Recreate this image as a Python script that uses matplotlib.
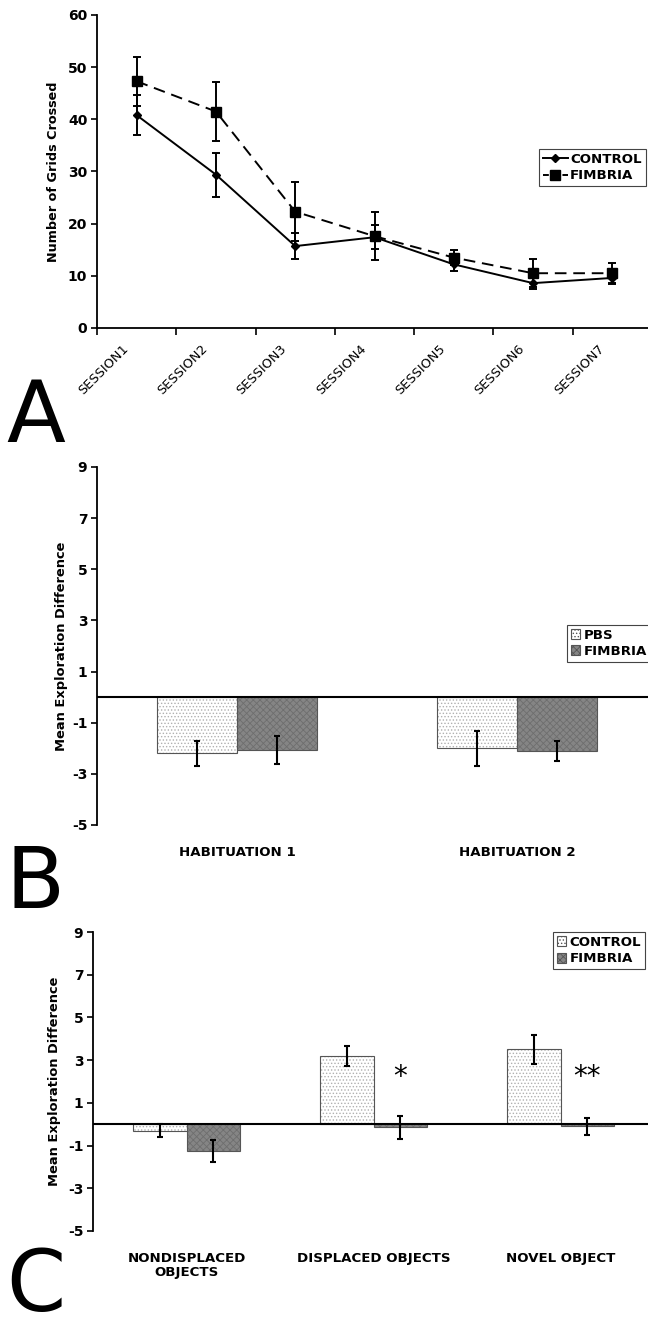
import matplotlib
matplotlib.use("Agg")
import matplotlib.pyplot as plt
import matplotlib.transforms as mtransforms
import numpy as np
from matplotlib.patches import Patch
from matplotlib.lines import Line2D

# ---------------- data ----------------
sessions = ["SESSION1", "SESSION2", "SESSION3", "SESSION4", "SESSION5", "SESSION6", "SESSION7"]
control_grids = [40.8, 29.4, 15.7, 17.4, 12.2, 8.6, 9.6]
control_grids_err = [3.8, 4.2, 2.5, 2.3, 1.3, 1.1, 1.0]
fimbria_grids = [47.3, 41.5, 22.3, 17.6, 13.5, 10.5, 10.5]
fimbria_grids_err = [4.7, 5.6, 5.7, 4.6, 1.4, 2.7, 2.0]

hab_cats = ["HABITUATION 1", "HABITUATION 2"]
pbs_hab = [-2.2, -2.0]
pbs_hab_err = [0.5, 0.68]
fimbria_hab = [-2.05, -2.1]
fimbria_hab_err = [0.55, 0.4]

obj_cats = ["NONDISPLACED\nOBJECTS", "DISPLACED OBJECTS", "NOVEL OBJECT"]
control_obj = [-0.3, 3.2, 3.5]
control_obj_err = [0.3, 0.47, 0.7]
fimbria_obj = [-1.25, -0.15, -0.1]
fimbria_obj_err = [0.5, 0.55, 0.4]
signif = ["", "*", "**"]

# ---------------- style ----------------
plt.rcParams['font.family'] = ['DejaVu Sans']
plt.rcParams['axes.unicode_minus'] = False
plt.rcParams['hatch.linewidth'] = 0.6
W, H = 648, 1330
fig = plt.figure(figsize=(W / 100, H / 100), dpi=100)

def ax_rect(x0, x1, ytop, ybot):
    return [x0 / W, 1 - ybot / H, (x1 - x0) / W, (ybot - ytop) / H]

def style_axes(ax):
    for s in ['top', 'right']:
        ax.spines[s].set_visible(False)
    ax.spines['left'].set_linewidth(1.3)
    ax.tick_params(axis='y', direction='out', length=4, width=1.2, pad=3)
    for lab in ax.get_yticklabels():
        lab.set_fontweight('bold')
        lab.set_fontsize(10)

# ---------------- Panel A ----------------
axA = fig.add_axes(ax_rect(97, 652, 15, 328))
x = np.arange(len(sessions))
axA.errorbar(x, control_grids, yerr=control_grids_err, color='black', lw=1.4,
             marker='D', markersize=4.5, capsize=3, elinewidth=1.4, capthick=1.4,
             label='CONTROL', zorder=3)
axA.errorbar(x, fimbria_grids, yerr=fimbria_grids_err, color='black', lw=1.4,
             linestyle=(0, (6, 3.5)), marker='s', markersize=7, capsize=3,
             elinewidth=1.4, capthick=1.4, label='FIMBRIA', zorder=3)
axA.set_xlim(-0.5, len(sessions) - 0.5)
axA.set_ylim(0, 60)
axA.set_yticks(np.arange(0, 61, 10))
axA.set_xticks(np.arange(len(sessions) + 1) - 0.5)
axA.set_xticklabels([])
axA.tick_params(axis='x', direction='out', length=5, width=1.2)
axA.spines['bottom'].set_linewidth(1.3)
style_axes(axA)
lab_tr = mtransforms.blended_transform_factory(axA.transData, axA.transAxes) + \
    mtransforms.ScaledTranslation(-15 / 100, -14 / 100, fig.dpi_scale_trans)
for xi, s in zip(x, sessions):
    axA.text(xi, 0, s, transform=lab_tr, rotation=45, ha='right', va='top',
             rotation_mode='anchor', fontsize=9.3, clip_on=False)
axA.set_ylabel("Number of Grids Crossed", fontsize=9.2, fontweight='bold', labelpad=6)
hA = [Line2D([], [], color='black', marker='D', markersize=4.5, lw=1.4),
      Line2D([], [], color='black', marker='s', markersize=6.5, lw=1.4, linestyle=(0, (3, 2)))]
legA = axA.legend(hA, ['CONTROL', 'FIMBRIA'], loc='upper left', bbox_to_anchor=(0.796, 0.572),
                  frameon=True, fancybox=False, edgecolor='#444444', framealpha=1,
                  prop=dict(weight='bold', size=9.6), handlelength=1.9, handletextpad=0.15,
                  borderpad=0.3, labelspacing=0.25, borderaxespad=0)
legA.get_frame().set_linewidth(0.8)

# ---------------- bar helper ----------------
light_kw = dict(facecolor='white', hatch='.....', edgecolor='#b0b0b0')
dark_kw = dict(facecolor='#858585', hatch='xxxxx', edgecolor='#6e6e6e')

def hatched_bars(ax, xs, vals, width, kw):
    ax.bar(xs, vals, width, linewidth=0, zorder=2, **kw)
    ax.bar(xs, vals, width, fill=False, edgecolor='#555555', linewidth=0.8, zorder=2.5)

def bar_panel(ax, cats, v1, e1, v2, e2, width, ylabpad):
    xs = np.arange(len(cats))
    hatched_bars(ax, xs - width / 2, v1, width, light_kw)
    hatched_bars(ax, xs + width / 2, v2, width, dark_kw)
    ax.errorbar(xs - width / 2, v1, yerr=e1, fmt='none', ecolor='black', elinewidth=1.5,
                capsize=2.5, capthick=1.5, zorder=4)
    ax.errorbar(xs + width / 2, v2, yerr=e2, fmt='none', ecolor='black', elinewidth=1.5,
                capsize=2.5, capthick=1.5, zorder=4)
    ax.axhline(0, color='black', lw=1.5, zorder=5)
    ax.set_xlim(-0.5, len(cats) - 0.5)
    ax.set_ylim(-5, 9)
    ax.set_yticks(np.arange(-5, 10, 2))
    ax.spines['bottom'].set_visible(False)
    ax.set_xticks(xs)
    ax.set_xticklabels(cats, fontsize=9.6, fontweight='bold', linespacing=1.1)
    ax.tick_params(axis='x', length=0, pad=15)
    style_axes(ax)
    ax.set_ylabel("Mean Exploration Difference", fontsize=9.4, fontweight='bold', labelpad=ylabpad)
    return xs

def bar_legend(ax, labels, anchor):
    h = [Patch(**light_kw, linewidth=0.8), Patch(**dark_kw, linewidth=0.8)]
    h[0].set_edgecolor('#555555'); h[1].set_edgecolor('#555555')
    leg = ax.legend(h, labels, loc='upper left', bbox_to_anchor=anchor, frameon=True,
                    fancybox=False, edgecolor='#444444', framealpha=1,
                    prop=dict(weight='bold', size=9.6), handlelength=0.7, handleheight=0.8,
                    handletextpad=0.25, borderpad=0.3, labelspacing=0.25, borderaxespad=0)
    leg.get_frame().set_linewidth(0.8)

# ---------------- Panel B ----------------
axB = fig.add_axes(ax_rect(97, 657, 467, 825))
bar_panel(axB, hab_cats, pbs_hab, pbs_hab_err, fimbria_hab, fimbria_hab_err, 0.286, 3)
bar_legend(axB, ['PBS', 'FIMBRIA'], (0.839, 0.56))

# ---------------- Panel C ----------------
axC = fig.add_axes(ax_rect(93, 654, 932, 1231))
xsC = bar_panel(axC, obj_cats, control_obj, control_obj_err, fimbria_obj, fimbria_obj_err, 0.285, 5)
for xi, s in zip(xsC, signif):
    if s:
        axC.text(xi + 0.14, 2.2, s, ha='center', va='center', fontsize=20)
bar_legend(axC, ['CONTROL', 'FIMBRIA'], (0.82, 1.0))

# ---------------- panel letters ----------------
fig.text(6 / W, 1 - 442 / H, 'A', fontsize=62, va='baseline', ha='left')
fig.text(6 / W, 1 - 908 / H, 'B', fontsize=62, va='baseline', ha='left')
fig.text(6 / W, 1 - 1329 / H, 'C', fontsize=61, va='bottom', ha='left')

fig.savefig("out.png", dpi=100)
